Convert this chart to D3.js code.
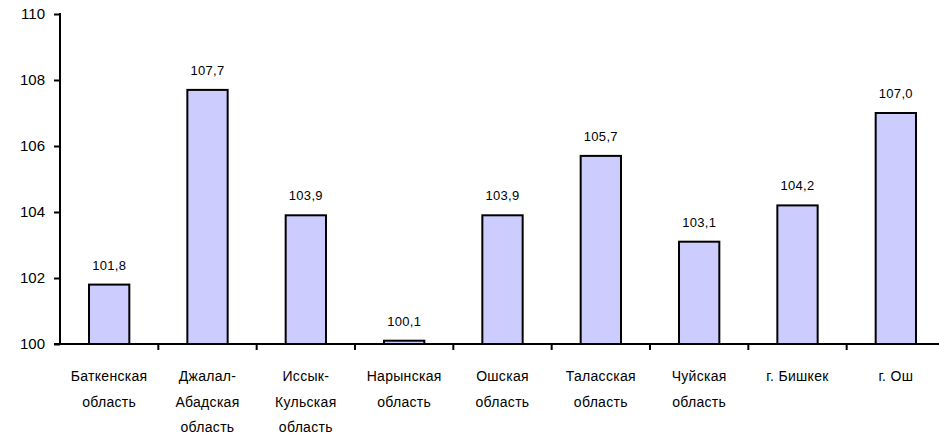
<!DOCTYPE html>
<html>
<head>
    <meta charset="utf-8">
    <title>regions_index</title>
    <script src="https://d3js.org/d3.v7.min.js"></script>
    <style>
        body { margin: 0; background: #fff; }
        svg { display: block; font-family: "Liberation Sans", Arial, sans-serif; }
    </style>
</head>
<body>
    <svg width="939" height="438"></svg>
    <script>
        // Regions (each label split into lines as in the picture)
        var categories = [
            ["Баткенская", "область"],
            ["Джалал-", "Абадская", "область"],
            ["Иссык-", "Кульская", "область"],
            ["Нарынская", "область"],
            ["Ошская", "область"],
            ["Таласская", "область"],
            ["Чуйская", "область"],
            ["г. Бишкек"],
            ["г. Ош"]
        ];
        var values = [101.8, 107.7, 103.9, 100.1, 103.9, 105.7, 103.1, 104.2, 107.0];
        var yTicks = [100, 102, 104, 106, 108, 110];

        var svg = d3.select("svg");
        // note: "top" is reserved on window, so use plot* names
        var plotLeft = 60, plotRight = 945, plotTop = 14, plotBottom = 344;

        var x = d3.scaleBand()
            .domain(d3.range(values.length))
            .range([plotLeft, plotRight])
            .paddingInner(0.59)
            .paddingOuter(0.295);

        var y = d3.scaleLinear()
            .domain([100, 110])
            .range([plotBottom, plotTop]);

        // bars
        svg.selectAll("rect.bar")
            .data(values)
            .enter()
            .append("rect")
            .attr("class", "bar")
            .attr("x", function(d, i) { return x(i); })
            .attr("y", function(d) { return y(d); })
            .attr("width", x.bandwidth())
            .attr("height", function(d) { return y(100) - y(d); })
            .attr("fill", "#ccccff")
            .attr("stroke", "#000")
            .attr("stroke-width", 2);

        // value labels
        svg.selectAll("text.val")
            .data(values)
            .enter()
            .append("text")
            .attr("class", "val")
            .attr("x", function(d, i) { return x(i) + x.bandwidth() / 2; })
            .attr("y", function(d) { return y(d) - 15; })
            .attr("text-anchor", "middle")
            .attr("font-size", 13)
            .attr("letter-spacing", 0.3)
            .text(function(d) { return d.toFixed(1).replace(".", ","); });

        // y axis
        var yAxis = svg.append("g")
            .attr("transform", "translate(" + plotLeft + ",0)")
            .call(d3.axisLeft(y).tickValues(yTicks).tickSize(6).tickPadding(9).tickFormat(d3.format("d")));
        yAxis.select(".domain").attr("stroke-width", 2).attr("d", "M0," + (plotTop - 1) + "V" + plotBottom);
        yAxis.selectAll(".tick line").attr("stroke-width", 2);
        yAxis.selectAll(".tick text").attr("font-size", 15).attr("font-family", "Liberation Sans, Arial, sans-serif").attr("fill", "#000");

        // x axis: boundary ticks between categories
        var xAxis = svg.append("g");
        xAxis.append("line")
            .attr("x1", plotLeft - 6).attr("x2", plotRight)
            .attr("y1", plotBottom).attr("y2", plotBottom)
            .attr("stroke", "#000").attr("stroke-width", 2);
        var step = x.step();
        xAxis.selectAll("line.tk")
            .data(d3.range(1, values.length))
            .enter()
            .append("line")
            .attr("class", "tk")
            .attr("x1", function(i) { return plotLeft + i * step; })
            .attr("x2", function(i) { return plotLeft + i * step; })
            .attr("y1", plotBottom).attr("y2", plotBottom + 6)
            .attr("stroke", "#000").attr("stroke-width", 2);

        // category labels
        var lbl = svg.selectAll("text.cat")
            .data(categories)
            .enter()
            .append("text")
            .attr("class", "cat")
            .attr("text-anchor", "middle")
            .attr("font-size", 14)
            .attr("letter-spacing", 0.3)
            .attr("y", 381)
            .attr("x", function(d, i) { return x(i) + x.bandwidth() / 2; });
        lbl.selectAll("tspan")
            .data(function(d) { return d; })
            .enter()
            .append("tspan")
            .attr("x", function() { return d3.select(this.parentNode).attr("x"); })
            .attr("dy", function(d, j) { return j === 0 ? 0 : 25.5; })
            .text(function(d) { return d; });
    </script>
</body>
</html>
